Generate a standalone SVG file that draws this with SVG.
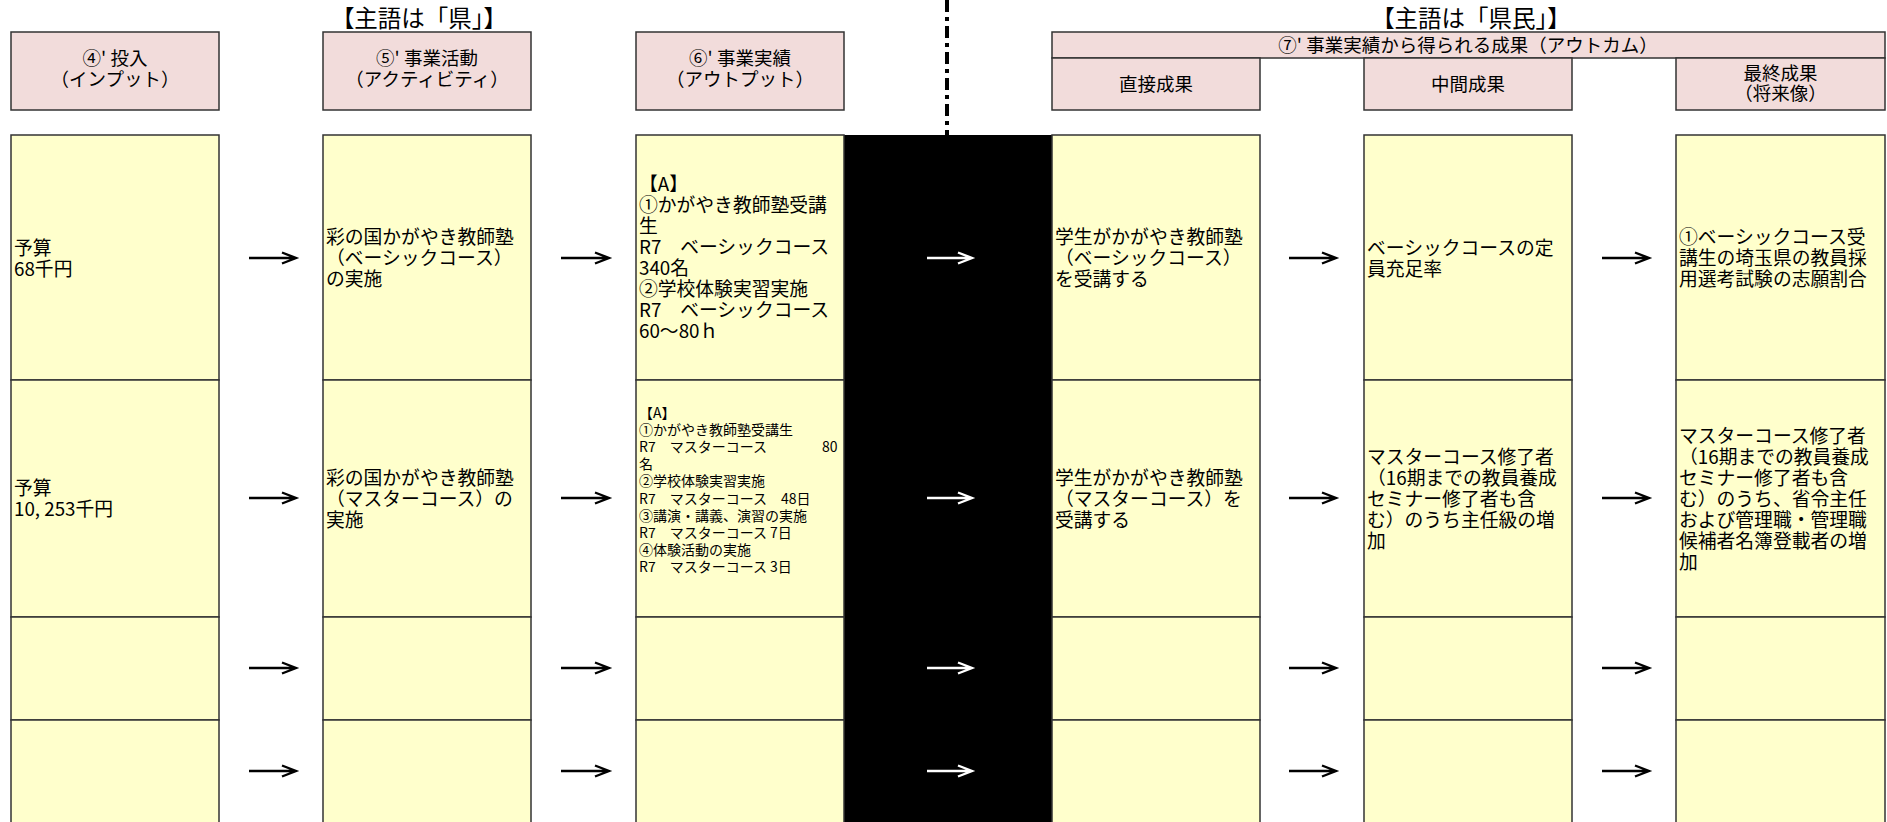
<svg xmlns="http://www.w3.org/2000/svg" width="1887" height="822" viewBox="0 0 1887 822">
<style>
  .hdr { fill: #F2DCDB; stroke: #333333; stroke-width: 1.5; }
  .cell { fill: #FFFFCC; stroke: #333333; stroke-width: 1.5; }
  .ht { font-family: "Noto Sans CJK JP", "Liberation Sans", sans-serif; font-size: 18.5px; fill: #000; text-anchor: middle; }
  .top { font-family: "Noto Sans CJK JP", "Liberation Sans", sans-serif; font-size: 23.5px; fill: #000; text-anchor: middle; }
  .bt { font-family: "Noto Sans CJK JP", "Liberation Sans", sans-serif; font-size: 18.8px; fill: #000; }
  .st { font-family: "Noto Sans CJK JP", "Liberation Sans", sans-serif; font-size: 14px; fill: #000; }
  .arr { fill: none; stroke: #000; stroke-width: 2.4; }
  .arrw { fill: none; stroke: #fff; stroke-width: 2.4; }
</style>
<rect x="0" y="0" width="1887" height="822" fill="#ffffff"/>

<g id="labels">
  <text class="top" x="419" y="26.5">【主語は「県」】</text>
  <text class="top" x="1471" y="26.5">【主語は「県民」】</text>
</g>

<g id="divider">
  <line x1="947" y1="0" x2="947" y2="136" stroke="#000" stroke-width="4" stroke-dasharray="12 5 4 5"/>
  <rect x="844" y="135" width="208" height="690" fill="#000"/>
</g>

<g id="header-input">
  <rect class="hdr" x="11" y="32" width="208" height="78"/>
  <text class="ht" x="115" y="64.5">④' 投入</text>
  <text class="ht" x="115" y="85.5">（インプット）</text>
</g>
<g id="header-activity">
  <rect class="hdr" x="323" y="32" width="208" height="78"/>
  <text class="ht" x="427" y="64.5">⑤' 事業活動</text>
  <text class="ht" x="427" y="85.5">（アクティビティ）</text>
</g>
<g id="header-output">
  <rect class="hdr" x="636" y="32" width="208" height="78"/>
  <text class="ht" x="740" y="64.5">⑥' 事業実績</text>
  <text class="ht" x="740" y="85.5">（アウトプット）</text>
</g>
<g id="header-outcome">
  <rect class="hdr" x="1052" y="32" width="833" height="26"/>
  <text class="ht" x="1468" y="51.5">⑦' 事業実績から得られる成果（アウトカム）</text>
</g>
<g id="header-direct">
  <rect class="hdr" x="1052" y="58" width="208" height="52"/>
  <text class="ht" x="1156" y="90.5">直接成果</text>
</g>
<g id="header-intermediate">
  <rect class="hdr" x="1364" y="58" width="208" height="52"/>
  <text class="ht" x="1468" y="90.5">中間成果</text>
</g>
<g id="header-final">
  <rect class="hdr" x="1676" y="58" width="209" height="52"/>
  <text class="ht" x="1780.5" y="79.5">最終成果</text>
  <text class="ht" x="1780.5" y="99.5">（将来像）</text>
</g>

<!-- Row 1 -->
<g id="r1-input">
  <rect class="cell" x="11" y="135" width="208" height="245"/>
  <text class="bt" x="14" y="254.5">予算<tspan x="14" dy="21">68千円</tspan></text>
</g>
<g id="r1-activity">
  <rect class="cell" x="323" y="135" width="208" height="245"/>
  <text class="bt" x="326" y="244">彩の国かがやき教師塾<tspan x="326" dy="21">（ベーシックコース）</tspan><tspan x="326" dy="21">の実施</tspan></text>
</g>
<g id="r1-output">
  <rect class="cell" x="636" y="135" width="208" height="245"/>
  <text class="bt" x="639" y="191">【A】<tspan x="639" dy="21">①かがやき教師塾受講</tspan><tspan x="639" dy="21">生</tspan><tspan x="639" dy="21">R7　ベーシックコース</tspan><tspan x="639" dy="21">340名</tspan><tspan x="639" dy="21">②学校体験実習実施</tspan><tspan x="639" dy="21">R7　ベーシックコース</tspan><tspan x="639" dy="21">60～80ｈ</tspan></text>
</g>
<g id="r1-direct">
  <rect class="cell" x="1052" y="135" width="208" height="245"/>
  <text class="bt" x="1055" y="244">学生がかがやき教師塾<tspan x="1055" dy="21">（ベーシックコース）</tspan><tspan x="1055" dy="21">を受講する</tspan></text>
</g>
<g id="r1-intermediate">
  <rect class="cell" x="1364" y="135" width="208" height="245"/>
  <text class="bt" x="1367" y="254.5">ベーシックコースの定<tspan x="1367" dy="21">員充足率</tspan></text>
</g>
<g id="r1-final">
  <rect class="cell" x="1676" y="135" width="209" height="245"/>
  <text class="bt" x="1679" y="244">①ベーシックコース受<tspan x="1679" dy="21">講生の埼玉県の教員採</tspan><tspan x="1679" dy="21">用選考試験の志願割合</tspan></text>
</g>

<!-- Row 2 -->
<g id="r2-input">
  <rect class="cell" x="11" y="380" width="208" height="237"/>
  <text class="bt" x="14" y="495">予算<tspan x="14" dy="21">10, 253千円</tspan></text>
</g>
<g id="r2-activity">
  <rect class="cell" x="323" y="380" width="208" height="237"/>
  <text class="bt" x="326" y="484.5">彩の国かがやき教師塾<tspan x="326" dy="21">（マスターコース）の</tspan><tspan x="326" dy="21">実施</tspan></text>
</g>
<g id="r2-output">
  <rect class="cell" x="636" y="380" width="208" height="237"/>
  <text class="st" x="639" y="417.5">【A】<tspan x="639" dy="17.2">①かがやき教師塾受講生</tspan><tspan x="639" dy="17.2">R7　マスターコース</tspan><tspan x="822" dy="0">80</tspan><tspan x="639" dy="17.2">名</tspan><tspan x="639" dy="17.2">②学校体験実習実施</tspan><tspan x="639" dy="17.2">R7　マスターコース　48日</tspan><tspan x="639" dy="17.2">③講演・講義、演習の実施</tspan><tspan x="639" dy="17.2">R7　マスターコース 7日</tspan><tspan x="639" dy="17.2">④体験活動の実施</tspan><tspan x="639" dy="17.2">R7　マスターコース 3日</tspan></text>
</g>
<g id="r2-direct">
  <rect class="cell" x="1052" y="380" width="208" height="237"/>
  <text class="bt" x="1055" y="484.5">学生がかがやき教師塾<tspan x="1055" dy="21">（マスターコース）を</tspan><tspan x="1055" dy="21">受講する</tspan></text>
</g>
<g id="r2-intermediate">
  <rect class="cell" x="1364" y="380" width="208" height="237"/>
  <text class="bt" x="1367" y="463.5">マスターコース修了者<tspan x="1367" dy="21">（16期までの教員養成</tspan><tspan x="1367" dy="21">セミナー修了者も含</tspan><tspan x="1367" dy="21">む）のうち主任級の増</tspan><tspan x="1367" dy="21">加</tspan></text>
</g>
<g id="r2-final">
  <rect class="cell" x="1676" y="380" width="209" height="237"/>
  <text class="bt" x="1679" y="442.5">マスターコース修了者<tspan x="1679" dy="21">（16期までの教員養成</tspan><tspan x="1679" dy="21">セミナー修了者も含</tspan><tspan x="1679" dy="21">む）のうち、省令主任</tspan><tspan x="1679" dy="21">および管理職・管理職</tspan><tspan x="1679" dy="21">候補者名簿登載者の増</tspan><tspan x="1679" dy="21">加</tspan></text>
</g>

<!-- Row 3 -->
<g id="r3-input"><rect class="cell" x="11" y="617" width="208" height="103"/></g>
<g id="r3-activity"><rect class="cell" x="323" y="617" width="208" height="103"/></g>
<g id="r3-output"><rect class="cell" x="636" y="617" width="208" height="103"/></g>
<g id="r3-direct"><rect class="cell" x="1052" y="617" width="208" height="103"/></g>
<g id="r3-intermediate"><rect class="cell" x="1364" y="617" width="208" height="103"/></g>
<g id="r3-final"><rect class="cell" x="1676" y="617" width="209" height="103"/></g>

<!-- Row 4 -->
<g id="r4-input"><rect class="cell" x="11" y="720" width="208" height="110"/></g>
<g id="r4-activity"><rect class="cell" x="323" y="720" width="208" height="110"/></g>
<g id="r4-output"><rect class="cell" x="636" y="720" width="208" height="110"/></g>
<g id="r4-direct"><rect class="cell" x="1052" y="720" width="208" height="110"/></g>
<g id="r4-intermediate"><rect class="cell" x="1364" y="720" width="208" height="110"/></g>
<g id="r4-final"><rect class="cell" x="1676" y="720" width="209" height="110"/></g>

<g id="connectors">
  <path class="arr" d="M249 258H295M282 252.5L296 258L282 263.5"/>
  <path class="arr" d="M561 258H608M595 252.5L609 258L595 263.5"/>
  <path class="arrw" d="M927 258H971M958 252.5L972 258L958 263.5"/>
  <path class="arr" d="M1289 258H1335M1322 252.5L1336 258L1322 263.5"/>
  <path class="arr" d="M1602 258H1648M1635 252.5L1649 258L1635 263.5"/>

  <path class="arr" d="M249 498H295M282 492.5L296 498L282 503.5"/>
  <path class="arr" d="M561 498H608M595 492.5L609 498L595 503.5"/>
  <path class="arrw" d="M927 498H971M958 492.5L972 498L958 503.5"/>
  <path class="arr" d="M1289 498H1335M1322 492.5L1336 498L1322 503.5"/>
  <path class="arr" d="M1602 498H1648M1635 492.5L1649 498L1635 503.5"/>

  <path class="arr" d="M249 668H295M282 662.5L296 668L282 673.5"/>
  <path class="arr" d="M561 668H608M595 662.5L609 668L595 673.5"/>
  <path class="arrw" d="M927 668H971M958 662.5L972 668L958 673.5"/>
  <path class="arr" d="M1289 668H1335M1322 662.5L1336 668L1322 673.5"/>
  <path class="arr" d="M1602 668H1648M1635 662.5L1649 668L1635 673.5"/>

  <path class="arr" d="M249 771H295M282 765.5L296 771L282 776.5"/>
  <path class="arr" d="M561 771H608M595 765.5L609 771L595 776.5"/>
  <path class="arrw" d="M927 771H971M958 765.5L972 771L958 776.5"/>
  <path class="arr" d="M1289 771H1335M1322 765.5L1336 771L1322 776.5"/>
  <path class="arr" d="M1602 771H1648M1635 765.5L1649 771L1635 776.5"/>
</g>
</svg>
